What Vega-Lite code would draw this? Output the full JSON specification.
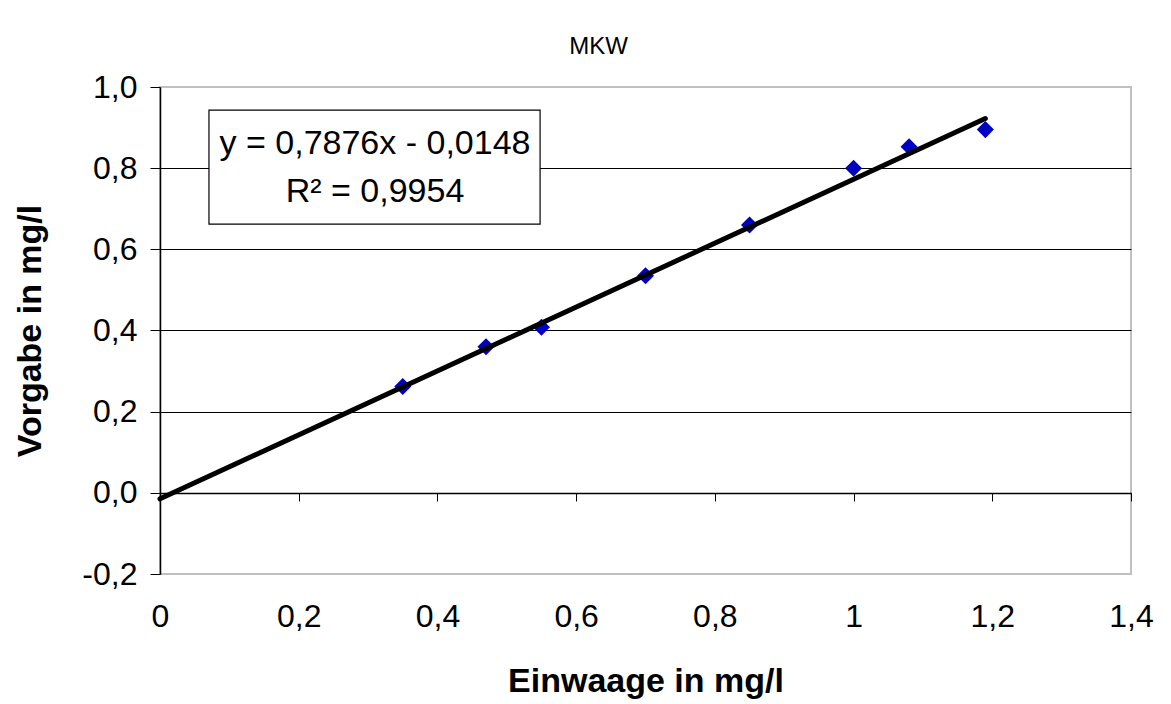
{
  "$schema": "https://vega.github.io/schema/vega-lite/v6.json",
  "width": 971,
  "height": 487,
  "autosize": "none",
  "padding": {"left": 160, "top": 87, "right": 40, "bottom": 130},
  "background": "white",
  "config": {
    "font": "Liberation Sans",
    "view": {"stroke": "#c0c0c0", "strokeWidth": 2}
  },
  "title": {
    "text": "MKW",
    "fontSize": 24,
    "fontWeight": "normal",
    "font": "Liberation Sans",
    "color": "black",
    "anchor": "middle",
    "dx": -47,
    "offset": 12
  },
  "datasets": {
    "points": [
      {"einwaage": 0.35, "vorgabe": 0.262},
      {"einwaage": 0.47, "vorgabe": 0.360},
      {"einwaage": 0.55, "vorgabe": 0.408},
      {"einwaage": 0.70, "vorgabe": 0.535},
      {"einwaage": 0.85, "vorgabe": 0.660},
      {"einwaage": 1.00, "vorgabe": 0.800},
      {"einwaage": 1.08, "vorgabe": 0.853},
      {"einwaage": 1.19, "vorgabe": 0.895}
    ],
    "trend": [
      {"einwaage": 0, "vorgabe": -0.0148},
      {"einwaage": 1.19, "vorgabe": 0.9224}
    ],
    "box": [
      {"x1": 0.0706, "x2": 0.548, "y1": 0.943, "y2": 0.662}
    ],
    "eq": [
      {"label": "y = 0,7876x - 0,0148", "x": 0.31, "y": 0.834},
      {"label": "R² = 0,9954", "x": 0.31, "y": 0.716}
    ]
  },
  "layer": [
    {
      "data": {"name": "points"},
      "mark": {"type": "point", "shape": "diamond", "filled": true, "color": "#0000c0", "size": 290, "opacity": 1},
      "encoding": {
        "x": {
          "field": "einwaage", "type": "quantitative",
          "scale": {"domain": [0, 1.4], "nice": false, "zero": false},
          "axis": {
            "orient": "bottom",
            "values": [0, 0.2, 0.4, 0.6, 0.8, 1, 1.2, 1.4],
            "labelExpr": "replace(format(datum.value,'.1~f'),'.',',')",
            "labelFlush": false,
            "domain": false, "ticks": false, "grid": false,
            "labelFontSize": 32, "labelColor": "black", "labelPadding": 27,
            "title": "Einwaage in mg/l", "titleFontSize": 34, "titleFontWeight": "bold",
            "titleColor": "black", "titlePadding": 32
          }
        },
        "y": {
          "field": "vorgabe", "type": "quantitative",
          "scale": {"domain": [-0.2, 1.0], "nice": false, "zero": false},
          "axis": {
            "orient": "left",
            "values": [-0.2, 0, 0.2, 0.4, 0.6, 0.8, 1.0],
            "labelExpr": "replace(replace(format(datum.value,'.1f'),'.',','),'−','-')",
            "labelFontSize": 32, "labelColor": "black", "labelPadding": 13,
            "tickSize": 10, "tickColor": "black", "domainColor": "black", "domainWidth": 1.5,
            "grid": true,
            "gridColor": {"condition": {"test": "datum.value > 0.99 || datum.value < -0.19", "value": "transparent"}, "value": "black"},
            "gridWidth": 1,
            "title": "Vorgabe in mg/l", "titleFontSize": 34, "titleFontWeight": "bold",
            "titleColor": "black", "titlePadding": 34
          }
        }
      }
    },
    {
      "data": {"name": "trend"},
      "mark": {"type": "line", "color": "black", "strokeWidth": 5, "strokeCap": "round"},
      "encoding": {
        "x": {
          "field": "einwaage", "type": "quantitative",
          "axis": {
            "orient": "bottom",
            "values": [0, 0.2, 0.4, 0.6, 0.8, 1, 1.2, 1.4],
            "offset": -81, "labels": false, "grid": false,
            "domainColor": "black", "domainWidth": 1.5,
            "tickColor": "black", "tickSize": 8, "title": null
          }
        },
        "y": {"field": "vorgabe", "type": "quantitative", "axis": null}
      }
    },
    {
      "data": {"name": "box"},
      "mark": {"type": "rect", "fill": "white", "stroke": "black", "strokeWidth": 1.2},
      "encoding": {
        "x": {"field": "x1", "type": "quantitative", "axis": null},
        "x2": {"field": "x2"},
        "y": {"field": "y1", "type": "quantitative", "axis": null},
        "y2": {"field": "y2"}
      }
    },
    {
      "data": {"name": "eq"},
      "mark": {"type": "text", "fontSize": 34, "color": "black", "align": "center", "baseline": "alphabetic"},
      "encoding": {
        "x": {"field": "x", "type": "quantitative", "axis": null},
        "y": {"field": "y", "type": "quantitative", "axis": null},
        "text": {"field": "label"}
      }
    }
  ],
  "resolve": {"axis": {"x": "independent", "y": "independent"}}
}
